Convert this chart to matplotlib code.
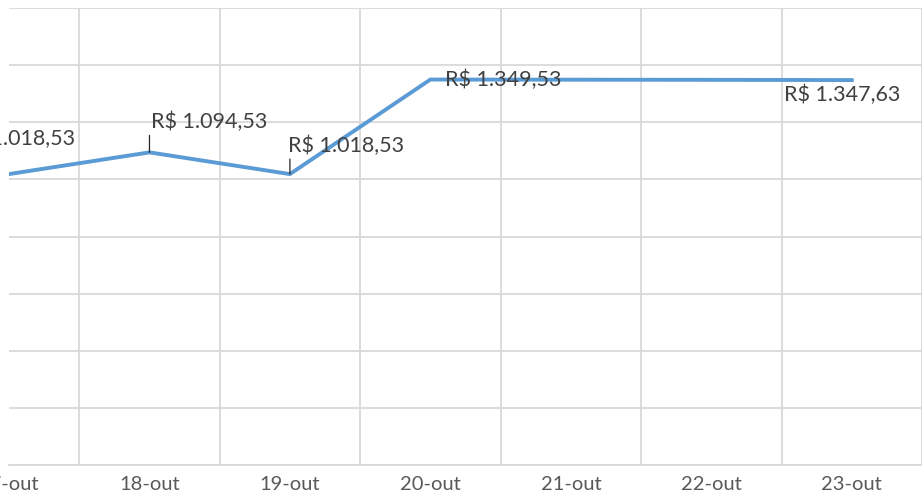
import matplotlib.pyplot as plt

# dados
dias = ['17-out', '18-out', '19-out', '20-out', '21-out', '22-out', '23-out']
valores = [1018.53, 1094.53, 1018.53, 1349.53, 1349.00, 1348.50, 1347.63]
rotulos = {0: 'R$ 1.018,53', 1: 'R$ 1.094,53', 2: 'R$ 1.018,53',
           3: 'R$ 1.349,53', 6: 'R$ 1.347,63'}

# deslocamento dos rótulos (pixels) e alinhamento
desloc = {0: (66, 35, 'right'), 1: (2, 30, 'left'), 2: (-2, 28, 'left'),
          3: (15, 0, 'left'), 6: (-68, -15, 'left')}
# linhas de chamada (posição relativa no rótulo)
com_linha = {1: (-0.017, 0.08), 2: (0.017, 0.08)}

plt.rcParams['font.family'] = ['Lato', 'DejaVu Sans']

W, H = 922, 500
fig = plt.figure(figsize=(W / 100, H / 100), dpi=100)
ax = fig.add_axes([9 / W, 1 - 465 / H, (W - 9) / W, (465 - 8) / H])

x = list(range(len(dias)))
ax.plot(x, valores, color='#5B9BD5', lw=2.8, solid_joinstyle='miter', zorder=3)

passo = 142.8
ax.set_xlim((9 - 3.2) / passo, (W - 3.2) / passo)
ax.set_ylim(0, 1600)

# grade entre categorias
ax.set_xticks([i + 0.5 for i in x], minor=True)
ax.set_xticks(x)
ax.set_xticklabels(dias)
ax.set_yticks(range(0, 1601, 200))
ax.set_yticklabels([])
ax.grid(True, which='minor', axis='x', color='#D9D9D9', lw=1.3)
ax.grid(True, which='major', axis='y', color='#D9D9D9', lw=1.3)
ax.tick_params(which='both', length=0)
ax.tick_params(axis='x', labelsize=14.5, labelcolor='#595959', pad=8)

for s in ['top', 'right', 'left']:
    ax.spines[s].set_visible(False)
ax.spines['bottom'].set_color('#D9D9D9')
ax.spines['bottom'].set_linewidth(1.3)

for i, txt in rotulos.items():
    dx, dy, ha = desloc[i]
    props = None
    if i in com_linha:
        props = dict(arrowstyle='-', color='#262626', lw=0.9, shrinkA=0, shrinkB=0,
                     relpos=com_linha[i])
    ax.annotate(txt, (x[i], valores[i]), xytext=(dx, dy), textcoords='offset pixels',
                ha=ha, va='center', fontsize=15.5, color='#404040',
                annotation_clip=False, arrowprops=props, zorder=4)

fig.savefig('out.png', dpi=100)
